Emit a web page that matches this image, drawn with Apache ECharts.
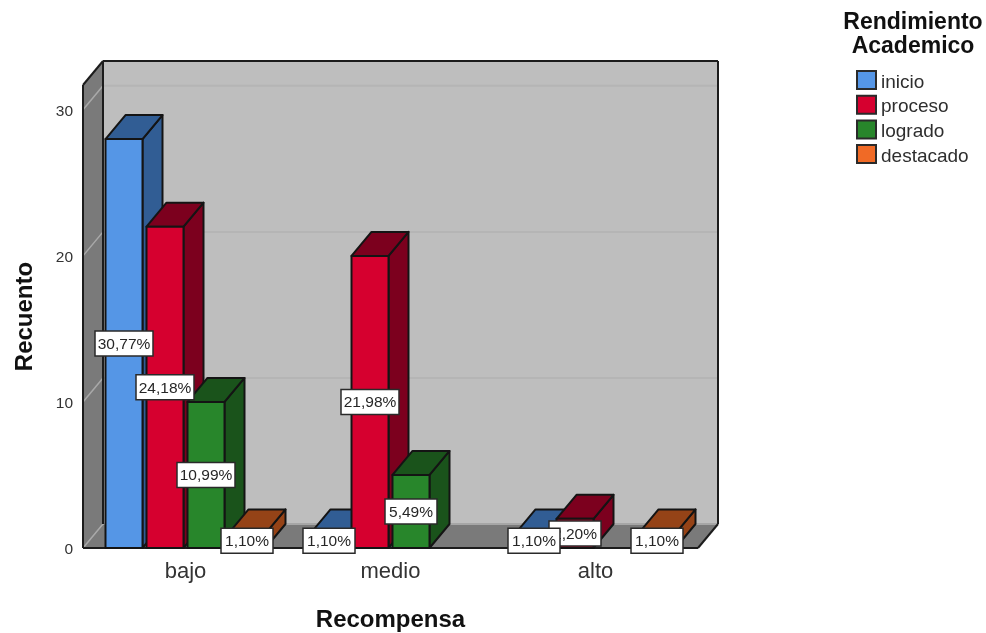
<!DOCTYPE html>
<html>
<head>
<meta charset="utf-8">
<title>Recompensa y Rendimiento Academico</title>
<script src="https://cdn.jsdelivr.net/npm/echarts@6/dist/echarts.min.js"></script>
<style>
html,body{margin:0;padding:0;background:#fff}
#chart{width:986px;height:633px}
</style>
</head>
<body>
<div id="chart"></div>
<script>
// Counts per reward level, one array per academic performance group
const categories = ['bajo', 'medio', 'alto'];
const inicio = [28, 1, 1];
const proceso = [22, 20, 2];
const logrado = [10, 5, 0];
const destacado = [1, 0, 1];
const totalCases = 91;
const yTicks = [0, 10, 20, 30];

const groups = [
  { name: 'inicio', values: inicio, front: '#5596e6', shade: '#315d94' },
  { name: 'proceso', values: proceso, front: '#d6002f', shade: '#7c001e' },
  { name: 'logrado', values: logrado, front: '#28862b', shade: '#1a531b' },
  { name: 'destacado', values: destacado, front: '#f06a26', shade: '#954317' }
];

// Oblique projection used for the box and for every bar
const DEPTH_X = 20;
const DEPTH_Y = -24;
const BAR_W = 37;
const BAR_GAP = 4;
const EDGE = '#141414';
const LABEL_FONT = '15.5px "Liberation Sans", Arial, sans-serif';

function pct(v) {
  return (v / totalCases * 100).toFixed(2).replace('.', ',') + '%';
}

function poly(points, fill, stroke, lineWidth) {
  return {
    type: 'polygon',
    shape: { points: points },
    style: { fill: fill, stroke: stroke || null, lineWidth: lineWidth || 0, lineJoin: 'round' }
  };
}

function seg(x1, y1, x2, y2, color, width) {
  return {
    type: 'line',
    shape: { x1: x1, y1: y1, x2: x2, y2: y2 },
    style: { stroke: color, lineWidth: width }
  };
}

// Back wall, left wall, floor and their gridlines
function renderBox(params, api) {
  const cs = params.coordSys;
  const l = cs.x, r = cs.x + cs.width, t = cs.y, b = cs.y + cs.height;
  const dx = DEPTH_X, dy = DEPTH_Y;
  const kids = [
    poly([[l + dx, t + dy], [r + dx, t + dy], [r + dx, b + dy], [l + dx, b + dy]], '#bebebe'),
    poly([[l, t], [l + dx, t + dy], [l + dx, b + dy], [l, b]], '#7a7a7a'),
    poly([[l, b], [l + dx, b + dy], [r + dx, b + dy], [r, b]], '#7a7a7a')
  ];
  yTicks.forEach(function (v) {
    const y = api.coord([0, v])[1];
    kids.push(seg(l, y, l + dx, y + dy, '#a9a9a9', 1.5));
    kids.push(seg(l + dx, y + dy, r + dx, y + dy, v === 0 ? '#a6a6a6' : '#b5b5b5', 2));
  });
  kids.push(seg(l, t, l, b, '#1c1c1c', 2));
  kids.push(seg(l, t, l + dx, t + dy, '#1c1c1c', 2));
  kids.push(seg(l + dx, t + dy, r + dx, t + dy, '#1c1c1c', 2));
  kids.push(seg(r + dx, t + dy, r + dx, b + dy, '#1c1c1c', 2));
  kids.push(seg(l + dx, t + dy, l + dx, b + dy, '#1c1c1c', 2));
  kids.push(seg(l, b, r, b, '#1c1c1c', 2));
  kids.push(seg(r, b, r + dx, b + dy, '#1c1c1c', 2));
  return { type: 'group', children: kids };
}

// One extruded bar with its percentage tag at half height
function makeBarRenderer(groupIndex) {
  const g = groups[groupIndex];
  return function (params, api) {
    const cat = api.value(0);
    const val = api.value(1);
    const top = api.coord([cat, val]);
    const base = api.coord([cat, 0]);
    const half = api.coord([cat, val / 2]);
    const span = groups.length * BAR_W + (groups.length - 1) * BAR_GAP;
    const x0 = top[0] - span / 2 + groupIndex * (BAR_W + BAR_GAP);
    const x1 = x0 + BAR_W;
    const dx = DEPTH_X, dy = DEPTH_Y;
    const tag = pct(val);
    const boxW = tag.length > 5 ? 58 : 52;
    const boxH = 25;
    const cx = (x0 + x1) / 2;
    return {
      type: 'group',
      children: [
        poly([[x1, top[1]], [x1 + dx, top[1] + dy], [x1 + dx, base[1] + dy], [x1, base[1]]], g.shade, EDGE, 2),
        poly([[x0, top[1]], [x0 + dx, top[1] + dy], [x1 + dx, top[1] + dy], [x1, top[1]]], g.shade, EDGE, 2),
        poly([[x0, top[1]], [x1, top[1]], [x1, base[1]], [x0, base[1]]], g.front, EDGE, 2),
        {
          type: 'rect',
          z2: 100 - groupIndex,
          shape: { x: cx - boxW / 2, y: half[1] - boxH / 2, width: boxW, height: boxH },
          style: { fill: '#ffffff', stroke: '#2a2a2a', lineWidth: 1.5 }
        },
        {
          type: 'text',
          z2: 100 - groupIndex,
          style: {
            x: cx, y: half[1] + 1, text: tag, font: LABEL_FONT, fill: '#262626',
            align: 'center', verticalAlign: 'middle'
          }
        }
      ]
    };
  };
}

const barSeries = groups.map(function (g, i) {
  return {
    name: g.name,
    type: 'custom',
    renderItem: makeBarRenderer(i),
    itemStyle: { color: g.front },
    encode: { x: 0, y: 1 },
    data: g.values.map(function (v, c) { return [c, v]; }).filter(function (d) { return d[1] > 0; })
  };
});

const chart = echarts.init(document.getElementById('chart'), null, { renderer: 'canvas' });
chart.setOption({
  animation: false,
  backgroundColor: '#ffffff',
  textStyle: { fontFamily: '"Liberation Sans", Arial, sans-serif' },
  grid: { left: 83, right: 288, top: 85, bottom: 85, containLabel: false, outerBoundsMode: 'none' },
  title: {
    text: 'Rendimiento\nAcademico',
    left: 908,
    top: 6,
    textAlign: 'center',
    textStyle: { fontSize: 23, fontWeight: 'bold', color: '#111', lineHeight: 24, fontFamily: '"Liberation Sans", Arial, sans-serif' }
  },
  legend: {
    data: groups.map(function (g) { return g.name; }),
    orient: 'vertical',
    left: 856,
    top: 68,
    padding: 0,
    itemWidth: 19,
    itemHeight: 18,
    itemGap: 0.7,
    icon: 'rect',
    selectedMode: false,
    itemStyle: { borderColor: '#2a2a2a', borderWidth: 2 },
    formatter: '{t|{name}}',
    textStyle: {
      rich: { t: { fontSize: 19, lineHeight: 16, color: '#2e2e2e', padding: [5, 0, 0, 0] } }
    }
  },
  xAxis: {
    type: 'category',
    data: categories,
    name: 'Recompensa',
    nameLocation: 'middle',
    nameGap: 60,
    nameTextStyle: { fontSize: 24, fontWeight: 'bold', color: '#111' },
    axisLine: { show: false },
    axisTick: { show: false },
    splitLine: { show: false },
    axisLabel: { fontSize: 22, color: '#333', margin: 13 }
  },
  yAxis: {
    type: 'value',
    min: 0,
    max: 31.7,
    name: 'Recuento',
    nameLocation: 'middle',
    nameRotate: 90,
    nameGap: 46,
    nameTextStyle: { fontSize: 24, fontWeight: 'bold', color: '#111' },
    axisLine: { show: false },
    axisTick: { show: false },
    splitLine: { show: false },
    axisLabel: {
      margin: 10,
      customValues: yTicks,
      formatter: function (v) { return '{t|' + v + '}'; },
      rich: { t: { fontSize: 15.5, color: '#333', padding: [4, 0, 0, 0] } }
    }
  },
  series: [
    {
      name: 'box',
      type: 'custom',
      silent: true,
      renderItem: renderBox,
      encode: { x: 0, y: 1 },
      data: [[0, 0]]
    }
  ].concat(barSeries)
});
</script>
</body>
</html>
